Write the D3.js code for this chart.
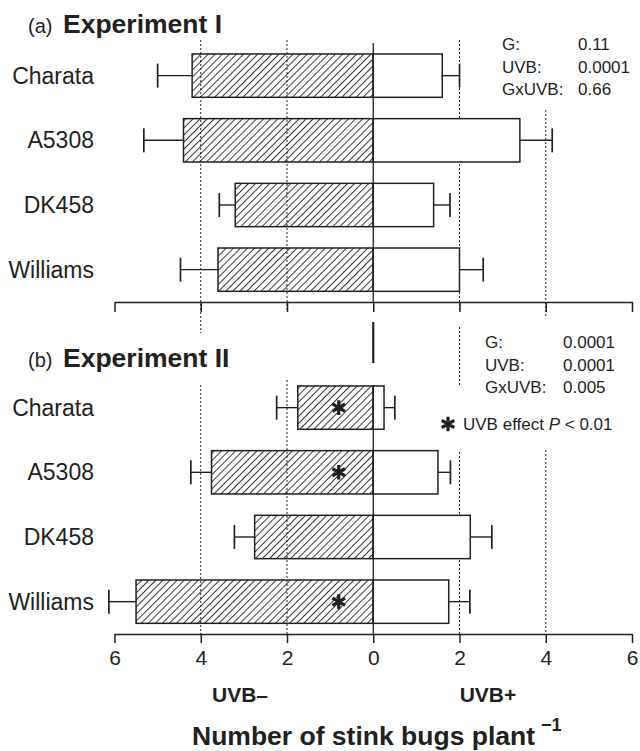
<!DOCTYPE html>
<html>
<head>
<meta charset="utf-8">
<script src="https://cdn.jsdelivr.net/npm/d3@7"></script>
<style>
  body { margin: 0; background: #fff; }
  svg text { font-family: "Liberation Sans", Arial, Helvetica, sans-serif; fill: #231f20; }
</style>
</head>
<body>
<div class="chart"></div>
<script>
const cultivars = ['Charata', 'A5308', 'DK458', 'Williams'];

// Experiment I: mean stink bugs per plant and SE
const exp1Minus = [4.2, 4.4, 3.2, 3.6];
const exp1MinusSE = [0.8, 0.92, 0.37, 0.87];
const exp1Plus = [1.6, 3.4, 1.4, 2.0];
const exp1PlusSE = [0.4, 0.75, 0.38, 0.55];

// Experiment II
const exp2Minus = [1.75, 3.75, 2.75, 5.5];
const exp2MinusSE = [0.49, 0.48, 0.47, 0.63];
const exp2Plus = [0.25, 1.5, 2.25, 1.75];
const exp2PlusSE = [0.25, 0.29, 0.5, 0.49];
const exp2Signif = [true, true, false, true];

const xTicks = [-6, -4, -2, 0, 2, 4, 6];
const stats1 = [['G:', '0.11'], ['UVB:', '0.0001'], ['GxUVB:', '0.66']];
const stats2 = [['G:', '0.0001'], ['UVB:', '0.0001'], ['GxUVB:', '0.005']];

const ink = '#231f20';

const svg = d3.select('.chart')
              .append('svg')
              .attr('width', 640)
              .attr('height', 751);

// hatch fill for UVB- bars
svg.append('defs')
  .append('pattern')
    .attr('id', 'hatch')
    .attr('patternUnits', 'userSpaceOnUse')
    .attr('width', 5)
    .attr('height', 5)
    .attr('patternTransform', 'rotate(45)')
  .append('line')
    .attr('x1', 0).attr('y1', 0).attr('x2', 0).attr('y2', 5)
    .attr('stroke', ink)
    .attr('stroke-width', 1.8);

const x = d3.scaleLinear().domain([-6, 6]).range([114.5, 632]);

const panels = [
  {
    tag: '(a)', title: 'Experiment I', top: 43.3, axisY: 302, titleY: 33,
    minus: exp1Minus, minusSE: exp1MinusSE, plus: exp1Plus, plusSE: exp1PlusSE,
    signif: [false, false, false, false],
    stats: stats1, statsX: [502, 578], statsY: 50,
    // dotted reference lines: [value, y from, y to]
    grid: [[-4, 40, 333], [-2, 40, 312], [2, 40, 312], [4, 110, 317]],
    zero: [[43, 302, 1.3]],
    labels: false
  },
  {
    tag: '(b)', title: 'Experiment II', top: 375.3, axisY: 634, titleY: 367,
    minus: exp2Minus, minusSE: exp2MinusSE, plus: exp2Plus, plusSE: exp2PlusSE,
    signif: exp2Signif,
    stats: stats2, statsX: [485, 563], statsY: 348,
    grid: [[-4, 385, 634], [-2, 380, 634], [2, 327, 385], [2, 452, 634], [4, 450, 634]],
    zero: [[322, 363, 2.2], [386, 634, 1.3]],
    labels: true
  }
];

const star = d3.symbol().type(d3.symbolAsterisk).size(150);

panels.forEach(p => {
  const g = svg.append('g');
  const y = d3.scaleBand()
              .domain(cultivars)
              .range([p.top, p.axisY])
              .paddingInner(0.33)
              .paddingOuter(0.165);
  const rows = cultivars.map((c, i) => ({
    name: c, minus: p.minus[i], minusSE: p.minusSE[i],
    plus: p.plus[i], plusSE: p.plusSE[i], signif: p.signif[i]
  }));

  // dotted gridlines
  g.selectAll('line.grid')
    .data(p.grid)
    .join('line')
      .attr('class', 'grid')
      .attr('x1', d => x(d[0])).attr('x2', d => x(d[0]))
      .attr('y1', d => d[1]).attr('y2', d => d[2])
      .attr('stroke', ink)
      .attr('stroke-width', 1)
      .attr('stroke-dasharray', '2,2');

  // error bars
  const err = g.selectAll('g.err')
    .data(rows.flatMap(r => [[-r.minus, -(r.minus + r.minusSE), r.name], [r.plus, r.plus + r.plusSE, r.name]]))
    .join('g')
      .attr('class', 'err');
  err.append('line')
    .attr('x1', d => x(d[0])).attr('x2', d => x(d[1]))
    .attr('y1', d => y(d[2]) + y.bandwidth() / 2)
    .attr('y2', d => y(d[2]) + y.bandwidth() / 2)
    .attr('stroke', ink).attr('stroke-width', 1.4);
  err.append('line')
    .attr('x1', d => x(d[1])).attr('x2', d => x(d[1]))
    .attr('y1', d => y(d[2]) + y.bandwidth() / 2 - 12)
    .attr('y2', d => y(d[2]) + y.bandwidth() / 2 + 12)
    .attr('stroke', ink).attr('stroke-width', 1.7);

  // UVB- bars (hatched, to the left)
  g.selectAll('rect.minus')
    .data(rows)
    .join('rect')
      .attr('class', 'minus')
      .attr('x', d => x(-d.minus))
      .attr('width', d => x(0) - x(-d.minus))
      .attr('y', d => y(d.name))
      .attr('height', y.bandwidth())
      .attr('fill', 'url(#hatch)')
      .attr('stroke', ink)
      .attr('stroke-width', 1.5);

  // UVB+ bars (open, to the right)
  g.selectAll('rect.plus')
    .data(rows)
    .join('rect')
      .attr('class', 'plus')
      .attr('x', x(0))
      .attr('width', d => x(d.plus) - x(0))
      .attr('y', d => y(d.name))
      .attr('height', y.bandwidth())
      .attr('fill', '#fff')
      .attr('stroke', ink)
      .attr('stroke-width', 1.5);

  // zero line
  g.selectAll('line.zero')
    .data(p.zero)
    .join('line')
      .attr('class', 'zero')
      .attr('x1', x(0)).attr('x2', x(0))
      .attr('y1', d => d[0]).attr('y2', d => d[1])
      .attr('stroke', ink)
      .attr('stroke-width', d => d[2]);

  // significance stars
  g.selectAll('path.star')
    .data(rows.filter(d => d.signif))
    .join('path')
      .attr('class', 'star')
      .attr('d', star)
      .attr('transform', d => `translate(${x(-0.8)},${y(d.name) + y.bandwidth() / 2})`)
      .attr('fill', 'none')
      .attr('stroke', ink)
      .attr('stroke-width', 3.2);

  // cultivar names
  g.selectAll('text.cat')
    .data(rows)
    .join('text')
      .attr('class', 'cat')
      .attr('x', 94)
      .attr('y', d => y(d.name) + y.bandwidth() / 2 + 8)
      .attr('text-anchor', 'end')
      .style('font-size', '23px')
      .text(d => d.name);

  // axis
  const axis = g.append('g')
    .attr('transform', `translate(0,${p.axisY})`)
    .call(d3.axisBottom(x)
      .tickValues(xTicks)
      .tickSize(p.labels ? 9 : 10)
      .tickSizeOuter(0)
      .tickPadding(7)
      .tickFormat(d => p.labels ? Math.abs(d) : ''));
  axis.select('.domain').attr('stroke', ink).attr('stroke-width', 1.5);
  axis.selectAll('.tick line').attr('stroke', ink).attr('stroke-width', 1.5);
  axis.selectAll('.tick text')
    .style('font-size', '21px')
    .style('font-family', '"Liberation Sans", Arial, sans-serif')
    .attr('fill', ink);

  // panel title
  const t = g.append('text').attr('x', 28).attr('y', p.titleY);
  t.append('tspan').style('font-size', '20px').text(p.tag + ' ');
  t.append('tspan').attr('x', 63).style('font-size', '26.5px').style('font-weight', 'bold').text(p.title);

  // ANOVA p-values
  g.selectAll('text.statLabel')
    .data(p.stats)
    .join('text')
      .attr('class', 'statLabel')
      .attr('x', p.statsX[0])
      .attr('y', (d, i) => p.statsY + i * 22.5)
      .style('font-size', '17px')
      .text(d => d[0]);
  g.selectAll('text.statValue')
    .data(p.stats)
    .join('text')
      .attr('class', 'statValue')
      .attr('x', p.statsX[1])
      .attr('y', (d, i) => p.statsY + i * 22.5)
      .style('font-size', '17px')
      .text(d => d[1]);
});

// star legend
svg.append('path')
  .attr('d', star)
  .attr('transform', 'translate(448,424)')
  .attr('fill', 'none')
  .attr('stroke', ink)
  .attr('stroke-width', 3.2);
const leg = svg.append('text').attr('x', 463).attr('y', 430).style('font-size', '17px');
leg.append('tspan').text('UVB effect ');
leg.append('tspan').style('font-style', 'italic').text('P');
leg.append('tspan').text(' < 0.01');

// treatment labels and axis title
svg.append('text')
  .attr('x', 240).attr('y', 702)
  .attr('text-anchor', 'middle')
  .style('font-size', '21px').style('font-weight', 'bold')
  .text('UVB\u2013');
svg.append('text')
  .attr('x', 488).attr('y', 702)
  .attr('text-anchor', 'middle')
  .style('font-size', '21px').style('font-weight', 'bold')
  .text('UVB+');

const title = svg.append('text')
  .attr('x', 192).attr('y', 745)
  .style('font-size', '26.5px').style('font-weight', 'bold');
title.append('tspan').text('Number of stink bugs plant');
title.append('tspan')
  .attr('dx', 6).attr('dy', -14)
  .style('font-size', '18px')
  .text('\u22121');
</script>
</body>
</html>
